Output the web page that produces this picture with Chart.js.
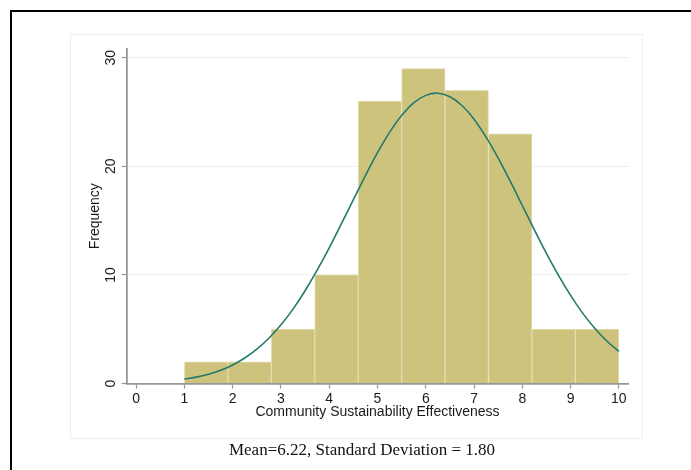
<!DOCTYPE html>
<html>
<head>
<meta charset="utf-8">
<script src="https://cdn.jsdelivr.net/npm/chart.js@4/dist/chart.umd.min.js"></script>
<style>
  html, body { margin: 0; padding: 0; background: #fff; width: 691px; height: 470px; overflow: hidden; }
  #frame { position: absolute; left: 10px; top: 10px; width: 700px; height: 500px;
           border-left: 2px solid #000; border-top: 2px solid #000; }
  #region { position: absolute; left: 70px; top: 34px; width: 571px; height: 403px;
            border: 1px solid #eceef0; background: #fff; }
  #wrap { position: absolute; left: 0; top: 0; width: 691px; height: 470px; }
  #caption { position: absolute; left: 362px; top: 441px; transform: translateX(-50%);
             font-family: "Liberation Serif", "Times New Roman", serif; font-size: 17px;
             line-height: 17px; color: #111; white-space: nowrap; }
</style>
</head>
<body>
<div id="frame"></div>
<div id="region"></div>
<div id="wrap"><canvas id="c" width="691" height="470"></canvas></div>
<div id="caption">Mean=6.22, Standard Deviation = 1.80</div>
<script>
// Histogram bins (left edges, bin width 0.9) and frequencies
const binStarts = [1.0, 1.9, 2.8, 3.7, 4.6, 5.5, 6.4, 7.3, 8.2, 9.1];
const binWidth = 0.9;
const counts = [2, 2, 5, 10, 26, 29, 27, 23, 5, 5];
// Normal density overlay
const curveX = [1.0, 1.25, 1.5, 1.75, 2.0, 2.25, 2.5, 2.75, 3.0, 3.25, 3.5, 3.75, 4.0, 4.25, 4.5, 4.75,
                5.0, 5.25, 5.5, 5.75, 6.0, 6.25, 6.5, 6.75, 7.0, 7.25, 7.5, 7.75, 8.0, 8.25, 8.5, 8.75,
                9.0, 9.25, 9.5, 9.75, 10.0];
const curveY = [0.40, 0.59, 0.86, 1.22, 1.71, 2.35, 3.16, 4.17, 5.40, 6.85, 8.54, 10.43, 12.49, 14.69, 16.93, 19.15,
                21.25, 23.12, 24.67, 25.84, 26.53, 26.73, 26.41, 25.60, 24.34, 22.69, 20.76, 18.63, 16.39, 14.15, 11.98, 9.95,
                8.11, 6.48, 5.08, 3.91, 2.95];
const xTicks = [0, 1, 2, 3, 4, 5, 6, 7, 8, 9, 10];
const yTicks = [0, 10, 20, 30];
const xTitle = "Community Sustainability Effectiveness";
const yTitle = "Frequency";

const barData = binStarts.map((s, i) => ({ x: s + binWidth / 2, y: counts[i] }));
const lineData = curveX.map((x, i) => ({ x: x, y: curveY[i] }));

const axisGray = '#969696';
const font14 = { family: '"Liberation Sans", Arial, Helvetica, sans-serif', size: 14 };

new Chart(document.getElementById('c'), {
  type: 'bar',
  data: {
    datasets: [
      {
        type: 'line',
        data: lineData,
        borderColor: '#227a6c',
        borderWidth: 1.6,
        pointRadius: 0,
        tension: 0.3,
        fill: false,
        order: 0
      },
      {
        type: 'bar',
        data: barData,
        backgroundColor: '#cec37c',
        borderColor: '#e4ddb0',
        borderWidth: 1,
        borderSkipped: 'bottom',
        barPercentage: 1.0,
        categoryPercentage: 1.0,
        order: 1
      }
    ]
  },
  options: {
    responsive: false,
    animation: false,
    devicePixelRatio: 1,
    layout: { padding: { left: 86.6, right: 62.5, top: 49, bottom: 49.6 } },
    plugins: { legend: { display: false }, tooltip: { enabled: false } },
    scales: {
      x: {
        type: 'linear',
        min: -0.2,
        max: 10.2,
        offset: false,
        afterBuildTicks: s => { s.ticks = xTicks.map(v => ({ value: v })); },
        afterFit: s => { s.height = 36.9; },
        grid: { display: true, drawOnChartArea: false, drawTicks: true, tickLength: 5,
                tickColor: axisGray, tickWidth: 1.2, offset: false },
        border: { display: true, color: axisGray, width: 1.8 },
        ticks: { font: font14, color: '#1a1a1a', padding: 2, maxRotation: 0, minRotation: 0 },
        title: { display: true, text: xTitle, font: font14, color: '#1a1a1a', padding: 0 }
      },
      y: {
        type: 'linear',
        min: 0,
        max: 30.8,
        afterBuildTicks: s => { s.ticks = yTicks.map(v => ({ value: v })); },
        afterFit: s => { s.width = 39.9; },
        grid: { display: true, drawOnChartArea: true, drawTicks: true, tickLength: 5,
                color: '#eceef1', tickColor: axisGray, tickWidth: 1.2, lineWidth: 1 },
        border: { display: true, color: axisGray, width: 1.8 },
        ticks: { font: font14, color: '#1a1a1a', padding: 2.8, minRotation: 90, maxRotation: 90,
                 crossAlign: 'center' },
        title: { display: true, text: yTitle, font: font14, color: '#1a1a1a', padding: 0 }
      }
    }
  }
});
</script>
</body>
</html>
